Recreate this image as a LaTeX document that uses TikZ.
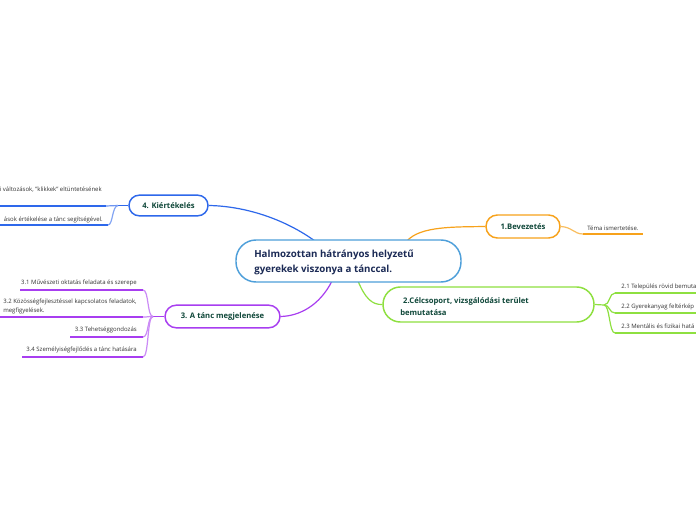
\documentclass[tikz,border=0pt]{standalone}
\usepackage{fontspec}
\setmainfont{Open Sans}
\usetikzlibrary{backgrounds}
\definecolor{corange}{HTML}{F7A21B}
\definecolor{cgreen}{HTML}{8EE040}
\definecolor{cpurple}{HTML}{A83EF0}
\definecolor{cblue}{HTML}{2E68EB}
\definecolor{ccentral}{HTML}{4E9FDA}
\definecolor{tgreen}{HTML}{10483A}
\definecolor{tnavy}{HTML}{1B2A55}
\definecolor{ltext}{HTML}{333333}
\tikzset{
  topic/.style={draw, line width=1.1pt, fill=white, inner sep=0pt,
    font=\fontsize{5.75}{7}\selectfont\bfseries, text=tgreen},
  leaf/.style={font=\fontsize{4.5}{6.75}\selectfont, text=ltext, inner sep=0pt},
  uline/.style={line width=1.7pt},
  conn/.style={line width=0.9pt},
}
\begin{document}
\begin{tikzpicture}[x=0.75pt,y=-0.75pt]
\useasboundingbox (0,0) rectangle (696,520);
\clip (0,0) rectangle (696,520);

% central
\node[draw=ccentral, line width=1.1pt, fill=white, minimum width=168.75pt, minimum height=31.5pt, rounded corners=15pt] (c) at (348.5,261) {};
\node[anchor=west, align=left, inner sep=0pt, text=tnavy, font=\fontsize{7.3}{11.25}\selectfont\bfseries] (ct) at (254,262.5) {Halmozottan hátrányos helyzetű\\gyerekek viszonya a tánccal.};

% main topics
\node[topic, draw=corange, minimum width=55.5pt, minimum height=17.25pt, rounded corners=8.5pt] (n1) at (523,226.5) {1.Bevezetés};
\node[topic, draw=cgreen, minimum width=158.25pt, minimum height=26.25pt, rounded corners=13pt] (n2) at (488.5,304.5) {};
\node[anchor=west, align=left, inner sep=0pt, text=tgreen, font=\fontsize{5.75}{9}\selectfont\bfseries] (t2) at (400,306.5) {\hspace{2.2pt}2.Célcsoport, vizsgálódási terület\\bemutatása};
\node[topic, draw=cpurple, minimum width=86.25pt, minimum height=17pt, rounded corners=8.5pt] (n3) at (222.5,316.5) {3. A tánc megjelenése};
\node[topic, draw=cblue, minimum width=59.25pt, minimum height=15.5pt, rounded corners=7.7pt] (n4) at (168.5,205.5) {4. Kiértékelés};

% coordinates for connector ends
\coordinate (co) at (407,241);
\coordinate (cb) at (315,241);
\coordinate (cp) at (332,281);
\coordinate (cg) at (358,281);

\begin{scope}[on background layer]
\fill[white] (0,0) rectangle (696,520);
\draw[conn, corange] (co) .. controls (420,226) and (455,227) .. (n1.west);
\draw[conn, cblue] (cb) .. controls (280,216) and (240,206) .. (n4.east);
\draw[conn, cpurple] (cp) .. controls (320,305) and (300,316) .. (n3.east);
\draw[conn, cgreen] (cg) .. controls (365,298) and (372,305) .. (n2.west);
\end{scope}

% 1 leaf
\coordinate (l1a) at (583,234);
\coordinate (l1b) at (643,234);
\draw[conn, corange!70] (n1.east) .. controls (572,227) and (574,234) .. (l1a);
\draw[uline, corange] (l1a) -- (l1b);
\node[leaf, anchor=west] (l1t) at (587,228) {Téma ismertetése.};

% 2 leaves
\coordinate (j2) at (604,305);
\draw[conn, cgreen] (n2.east) -- (j2);
\coordinate (l21a) at (615,293); \coordinate (l21b) at (700,293);
\coordinate (l22a) at (615,313); \coordinate (l22b) at (700,313);
\coordinate (l23a) at (615,333); \coordinate (l23b) at (700,333);
\foreach \a/\b in {l21a/l21b,l22a/l22b,l23a/l23b}{
  \draw[conn, cgreen] (j2) .. controls (610,305) and (609,0|-\a) .. (\a);
  \draw[uline, cgreen] (\a) -- (\b);
}
\node[leaf, anchor=west] (l21t) at (621,286.5) {2.1 Település rövid bemuta};
\node[leaf, anchor=west] (l22t) at (621,306.5) {2.2 Gyerekanyag feltérkép};
\node[leaf, anchor=west] (l23t) at (621,326.5) {2.3 Mentális és fizikai hatá};

% 3 leaves
\coordinate (j3) at (153,316.5);
\draw[conn, cpurple] (n3.west) -- (j3);
\coordinate (l31a) at (20,290); \coordinate (l31b) at (143,290);
\coordinate (l32a) at (0,317); \coordinate (l32b) at (143,317);
\coordinate (l33a) at (70,337); \coordinate (l33b) at (143,337);
\coordinate (l34a) at (22,357); \coordinate (l34b) at (143,357);
\foreach \a/\b in {l31a/l31b,l32a/l32b,l33a/l33b,l34a/l34b}{
  \draw[conn, cpurple!60] (j3) .. controls (147,316.5) and (149,0|-\b) .. (\b);
  \draw[uline, cpurple] (\a) -- (\b);
}
\node[leaf, anchor=east] (l31t) at (137,283) {3.1 Művészeti oktatás feladata és szerepe};
\node[leaf, anchor=west, align=left] (l32t) at (3,306.5) {3.2 Közösségfejlesztéssel kapcsolatos feladatok,\\megfigyelések.};
\node[leaf, anchor=east] (l33t) at (137,330) {3.3 Tehetséggondozás};
\node[leaf, anchor=east] (l34t) at (137,350) {3.4 Személyiségfejlődés a tánc hatására};

% 4 leaves
\coordinate (j4) at (118,205.5);
\draw[conn, cblue] (n4.west) -- (j4);
\coordinate (l41a) at (-5,206); \coordinate (l41b) at (106,206);
\coordinate (l42a) at (-5,225); \coordinate (l42b) at (108,225);
\draw[conn, cblue!70] (j4) -- (l41b);
\draw[conn, cblue!60] (j4) .. controls (112,206) and (113,225) .. (l42b);
\draw[uline, cblue] (l41a) -- (l41b);
\draw[uline, cblue] (l42a) -- (l42b);
\node[leaf, anchor=east] (l41t) at (102,190) {i változások, "klikkek" eltüntetésének};
\node[leaf, anchor=east] (l42t) at (103,219.5) {ások értékelése a tánc segítségével.};
\end{tikzpicture}
\end{document}
